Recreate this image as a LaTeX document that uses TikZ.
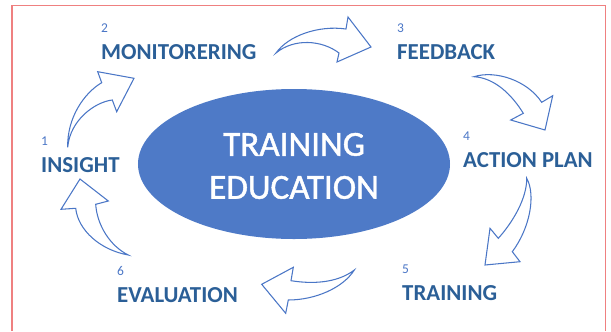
\documentclass[tikz,border=0pt]{standalone}
\usepackage{fontspec}
\setmainfont{Carlito}
\newfontface\corefont{Carlito}[FakeBold=1.3]
\usetikzlibrary{positioning,shapes.geometric}
\definecolor{cycleframe}{HTML}{EF8080}
\definecolor{cyclefill}{HTML}{4E7AC7}
\definecolor{cycleline}{HTML}{4A76C6}
\definecolor{cyclelabel}{HTML}{2B5F97}
\definecolor{cyclenum}{HTML}{4A76C6}

\begin{document}
\begin{tikzpicture}[
  x=0.03cm,
  y=-0.03cm,
  frame/.style={cycleframe, line width=1.4pt},
  core/.style={ellipse, fill=cyclefill, inner sep=0pt, outer sep=0pt,
    minimum width=9.36cm, minimum height=4.5cm},
  coretext/.style={white, align=center, inner sep=0pt,
    font=\fontsize{30}{36.7}\corefont},
  stagelabel/.style={cyclelabel, inner sep=0pt, anchor=base west,
    font=\fontsize{19.5}{23}\selectfont\bfseries},
  stagenum/.style={cyclenum, inner sep=0pt,
    font=\fontsize{11.5}{13}\selectfont},
  flow/.style={cycleline, fill=white, line width=0.9pt, line join=miter}
]
  \useasboundingbox (0,0) rectangle (611,331);

  % ---- the frame, open at the bottom -----------------------------------
  \draw[frame] (11.7,331) -- (11.7,5.5) -- (605.5,5.5) -- (605.5,331);

  % ---- the centre ------------------------------------------------------
  \node[core] (hub) at (294,164) {};
  \node[coretext] (hubtext) at ([yshift=-1.7pt]hub.center) {TRAINING\\EDUCATION};

  % ---- the six stages --------------------------------------------------
  \node[stagelabel] (insight)    at (41,172)  {INSIGHT};
  \node[stagelabel] (monitor)    at (101,59)  {MONITORERING};
  \node[stagelabel] (feedback)   at (397,59)  {FEEDBACK};
  \node[stagelabel] (actionplan) at (463,167) {ACTION PLAN};
  \node[stagelabel] (training)   at (402,300) {TRAINING};
  \node[stagelabel] (evaluation) at (117,302) {EVALUATION};

  \node[stagenum, above=0.33cm of insight.north west, anchor=south west]    (num1) {1};
  \node[stagenum, above=0.33cm of monitor.north west, anchor=south west]    (num2) {2};
  \node[stagenum, above=0.33cm of feedback.north west, anchor=south west]   (num3) {3};
  \node[stagenum, above=0.33cm of actionplan.north west, anchor=south west] (num4) {4};
  \node[stagenum, above=0.33cm of training.north west, anchor=south west]   (num5) {5};
  \node[stagenum, above=0.33cm of evaluation.north west, anchor=south west] (num6) {6};

  % ---- the curved block arrows, tail -> outer edge -> head -> inner edge
  % insight to monitorering
  \draw[flow] (67.7,147.3) .. controls (67,118) and (84,93) .. (101.7,82.7)
    -- (97.7,71.7) -- (134,78.3) -- (116.7,111.7) -- (112.3,100)
    .. controls (95,102) and (70,120) .. cycle;
  % monitorering to feedback
  \draw[flow] (276,53) .. controls (288,36) and (318,25) .. (346,29)
    -- (348,17) -- (371,47) -- (337,62) -- (339,53)
    .. controls (322,40) and (294,38) .. cycle;
  % feedback to action plan
  \draw[flow] (474,76.7) .. controls (495,70) and (527,80) .. (541.7,102.3)
    -- (552.7,95.7) -- (545,130) -- (510.7,120) -- (523.3,113.3)
    .. controls (512,95) and (495,78) .. cycle;
  % action plan to training
  \draw[flow] (526.7,178.3) .. controls (536,195) and (530,228) .. (512.3,251.7)
    -- (520,261.7) -- (485,265) -- (490,228.3) -- (498.3,238.3)
    .. controls (513,222) and (527,198) .. cycle;
  % training to evaluation
  \draw[flow] (354.3,270) .. controls (343,288) and (315,300) .. (288.3,300)
    -- (285.7,313.3) -- (261.7,284.3) -- (293.3,267.3) -- (291,280.7)
    .. controls (318,285) and (340,281) .. cycle;
  % evaluation to insight
  \draw[flow] (128.3,255) .. controls (100,250) and (78,230) .. (75.7,208.3)
    -- (61,209.3) -- (80,179) -- (108.3,201) -- (95.7,204.3)
    .. controls (97,225) and (110,246) .. cycle;
\end{tikzpicture}
\end{document}
